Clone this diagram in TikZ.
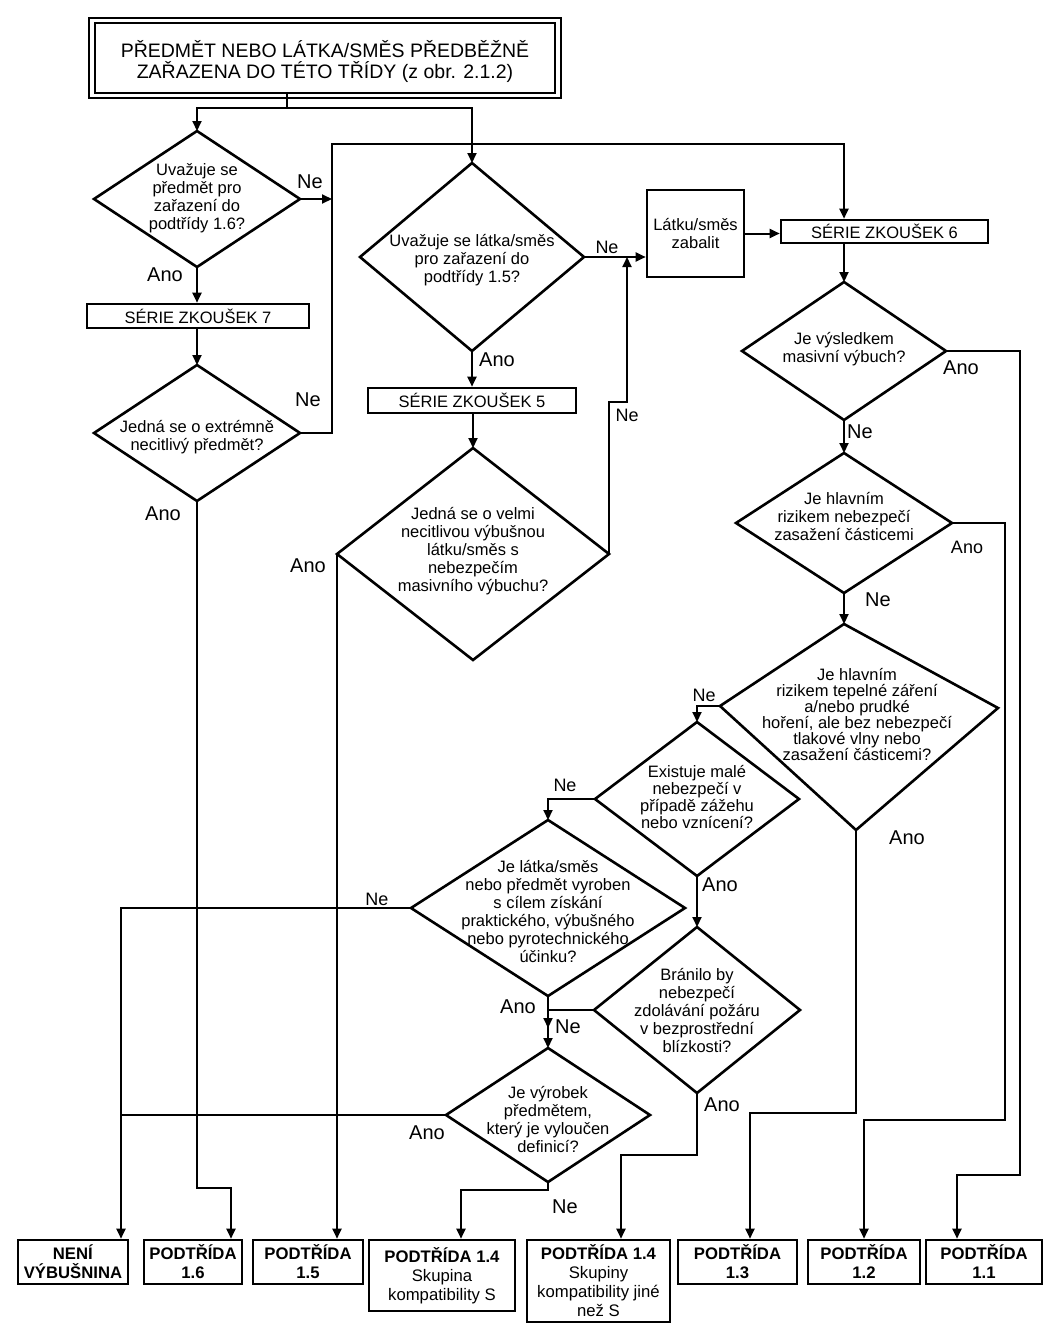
\documentclass[tikz,border=0pt]{standalone}
\usepackage{fontspec}
\setmainfont{Liberation Sans}
\usetikzlibrary{arrows.meta}
\newcommand\mydiam[5]{%
  \coordinate (#1-t) at (#2,#3-#5);
  \coordinate (#1-b) at (#2,#3+#5);
  \coordinate (#1-l) at (#2-#4,#3);
  \coordinate (#1-r) at (#2+#4,#3);
  \draw[dline] (#1-t) -- (#1-r) -- (#1-b) -- (#1-l) -- cycle;}
\tikzset{
 dline/.style={line width=2.6pt, line join=miter},
 conn/.style={line width=2pt},
 arr/.style={conn, -{Triangle[length=10pt,width=9pt]}},
 dtext/.style={align=center, font=\fontsize{16.5}{18}\selectfont, inner sep=0pt},
 lab/.style={font=\fontsize{20}{22}\selectfont, inner sep=0pt},
 slab/.style={font=\fontsize{18}{20}\selectfont, inner sep=0pt},
 sbox/.style={draw, line width=2.6pt, inner sep=0pt, font=\fontsize{16.5}{18}\selectfont},
 bbox/.style={draw, line width=2.6pt, inner sep=0pt, align=center, font=\fontsize{16.7}{19}\selectfont},
}
\begin{document}
\begin{tikzpicture}[x=1pt,y=-1pt]
\path[use as bounding box, fill=white] (0,0) rectangle (1055,1338);

% top box
\draw[line width=2.6pt] (89,18) rectangle (561,98);
\node[draw, line width=2.2pt, minimum width=460pt, minimum height=70pt, inner sep=0pt] (top) at (325,58) {};
\node[align=center, inner sep=0pt, font=\fontsize{19.5}{21}\selectfont] (toptx) at (325,61) {PŘEDMĚT NEBO LÁTKA/SMĚS PŘEDBĚŽNĚ\\ZAŘAZENA DO TÉTO TŘÍDY (z obr. 2.1.2)};

% diamonds
\mydiam{d16}{197}{199}{103}{68}
\node[dtext] (q16) at (197,198) {Uvažuje se\\předmět pro\\zařazení do\\podtřídy 1.6?};
\mydiam{d17}{197}{433}{103}{68}
\node[dtext] (q17) at (197,437) {Jedná se o extrémně\\necitlivý předmět?};
\mydiam{d15}{472}{257}{112}{94}
\node[dtext] (q15) at (472,260) {Uvažuje se látka/směs\\pro zařazení do\\podtřídy 1.5?};
\mydiam{d5}{473}{554}{136}{106}
\node[dtext] (q5) at (473,551) {Jedná se o velmi\\necitlivou výbušnou\\látku/směs s\\nebezpečím\\masivního výbuchu?};
\mydiam{d11}{844}{351}{102}{69}
\node[dtext] (q11) at (844,349) {Je výsledkem\\masivní výbuch?};
\mydiam{d12}{844}{523}{108}{70}
\node[dtext] (q12) at (844,516) {Je hlavním\\rizikem nebezpečí\\zasažení částicemi};
\coordinate (d13-t) at (844,624);
\coordinate (d13-l) at (720,706);
\coordinate (d13-r) at (998,708);
\coordinate (d13-b) at (856,830);
\draw[dline] (d13-t) -- (d13-r) -- (d13-b) -- (d13-l) -- cycle;
\node[dtext, font=\fontsize{16.5}{16}\selectfont] (q13) at (857,714) {Je hlavním\\rizikem tepelné záření\\a/nebo prudké\\hoření, ale bez nebezpečí\\tlakové vlny nebo\\zasažení částicemi?};
\mydiam{d14}{697}{799}{102}{77}
\node[dtext, font=\fontsize{16.5}{16.8}\selectfont] (q14) at (697,797) {Existuje malé\\nebezpečí v\\případě zážehu\\nebo vznícení?};
\mydiam{d9}{548}{908}{137}{88}
\node[dtext] (q9) at (548,911) {Je látka/směs\\nebo předmět vyroben\\s cílem získání\\praktického, výbušného\\nebo pyrotechnického\\účinku?};
\mydiam{d8}{697}{1010}{103}{83}
\node[dtext] (q8) at (697,1010) {Bránilo by\\nebezpečí\\zdolávání požáru\\v bezprostřední\\blízkosti?};
\mydiam{d10}{548}{1115}{102}{67}
\node[dtext] (q10) at (548,1119) {Je výrobek\\předmětem,\\který je vyloučen\\definicí?};

% rectangles
\node[sbox, minimum width=222pt, minimum height=24pt] (s7) at (198,316) {SÉRIE ZKOUŠEK 7};
\node[sbox, minimum width=208pt, minimum height=25pt] (s5) at (472,400.5) {SÉRIE ZKOUŠEK 5};
\node[sbox, minimum width=207pt, minimum height=23pt] (s6) at (884.5,231.5) {SÉRIE ZKOUŠEK 6};
\node[sbox, minimum width=97pt, minimum height=87pt, align=center] (pack) at (695.5,233.5) {Látku/směs\\zabalit};

% bottom boxes
\node[bbox, minimum width=110pt, minimum height=44pt] (pn) at (73,1262) {\textbf{NENÍ}\\\textbf{VÝBUŠNINA}};
\node[bbox, minimum width=98pt, minimum height=44pt] (p16) at (193,1262) {\textbf{PODTŘÍDA}\\\textbf{1.6}};
\node[bbox, minimum width=110pt, minimum height=44pt] (p15) at (308,1262) {\textbf{PODTŘÍDA}\\\textbf{1.5}};
\node[bbox, minimum width=146pt, minimum height=71pt] (p14a) at (442,1275.5) {\textbf{PODTŘÍDA 1.4}\\Skupina\\kompatibility S};
\node[bbox, minimum width=143pt, minimum height=82pt] (p14b) at (598.5,1281) {\textbf{PODTŘÍDA 1.4}\\Skupiny\\kompatibility jiné\\než S};
\node[bbox, minimum width=119pt, minimum height=44pt] (p13) at (737.5,1262) {\textbf{PODTŘÍDA}\\\textbf{1.3}};
\node[bbox, minimum width=112pt, minimum height=44pt] (p12) at (864,1262) {\textbf{PODTŘÍDA}\\\textbf{1.2}};
\node[bbox, minimum width=116pt, minimum height=44pt] (p11) at (984,1262) {\textbf{PODTŘÍDA}\\\textbf{1.1}};

% helper coordinates
\coordinate (split) at (287,108);
\coordinate (c1) at (332,144);
\coordinate (c3) at (627,402);
\coordinate (c4) at (1020,1175);
\coordinate (c4b) at (957,1175);
\coordinate (c5) at (1005,1120);
\coordinate (c5b) at (864,1120);
\coordinate (c6) at (750,1113);
\coordinate (xn) at (121,0);
\coordinate (c8) at (548,1028);
\coordinate (c9) at (621,1155);
\coordinate (c10) at (461,1190);
\coordinate (c11) at (231,1188);

% connectors
\draw[conn] (top.south -| split) -- (split);
\draw[arr] (split) -| (d16-t);
\draw[arr] (split) -| (d15-t);
\draw[arr] (d16-r) -- (d16-r -| c1);
\draw[arr] (d16-b) -- (s7.north -| d16-b);
\draw[arr] (s7.south -| d17-t) -- (d17-t);
\draw[arr] (d17-r) -| (c1) -| (s6.north -| d11-t);
\draw[arr] (d17-b) |- (c11) -- (c11 |- p16.north);
\draw[arr] (d15-b) -- (s5.north -| d15-b);
\draw[arr] (s5.south -| d5-t) -- (d5-t);
\draw[arr] (d15-r) -- (d15-r -| pack.west);
\draw[arr] (d5-r) |- (c3) -- (c3 |- d15-r);
\draw[arr] (d5-l) -- (d5-l |- p15.north);
\draw[arr] (pack.east) -- (pack.east -| s6.west);
\draw[arr] (s6.south -| d11-t) -- (d11-t);
\draw[arr] (d11-b) -- (d12-t);
\draw[arr] (d11-r) -| (c4) -- (c4b) -- (c4b |- p11.north);
\draw[arr] (d12-r) -| (c5) -- (c5b) -- (c5b |- p12.north);
\draw[arr] (d12-b) -- (d13-t);
\draw[arr] (d13-b) |- (c6) -- (c6 |- p13.north);
\draw[arr] (d13-l) -| (d14-t);
\draw[arr] (d14-l) -| (d9-t);
\draw[arr] (d14-b) -- (d8-t);
\draw[arr] (d9-l) -| (xn |- pn.north);
\draw[arr] (d9-b) -- (d10-t);
\draw[arr] (d8-l) -| (c8);
\draw[arr] (d8-b) |- (c9) -- (c9 |- p14b.north);
\draw[conn] (d10-l) -- (d10-l -| xn);
\draw[arr] (d10-b) |- (c10) -- (c10 |- p14a.north);

% labels
\node[lab] (l1) at (310,182) {Ne};
\node[lab] (l2) at (165,275) {Ano};
\node[lab] (l3) at (308,400) {Ne};
\node[lab] (l4) at (163,514) {Ano};
\node[slab] (l5) at (607,247) {Ne};
\node[lab] (l6) at (497,360) {Ano};
\node[slab] (l7) at (627,415) {Ne};
\node[lab] (l8) at (308,566) {Ano};
\node[lab] (l9) at (860,432) {Ne};
\node[lab] (l10) at (961,368) {Ano};
\node[slab] (l11) at (967,547) {Ano};
\node[lab] (l12) at (878,600) {Ne};
\node[slab] (l13) at (704,695) {Ne};
\node[lab] (l14) at (907,838) {Ano};
\node[slab] (l15) at (565,785) {Ne};
\node[lab] (l16) at (720,885) {Ano};
\node[slab] (l17) at (377,899) {Ne};
\node[lab] (l18) at (518,1007) {Ano};
\node[lab] (l19) at (568,1027) {Ne};
\node[lab] (l20) at (722,1105) {Ano};
\node[lab] (l21) at (427,1133) {Ano};
\node[lab] (l22) at (565,1207) {Ne};
\end{tikzpicture}
\end{document}
